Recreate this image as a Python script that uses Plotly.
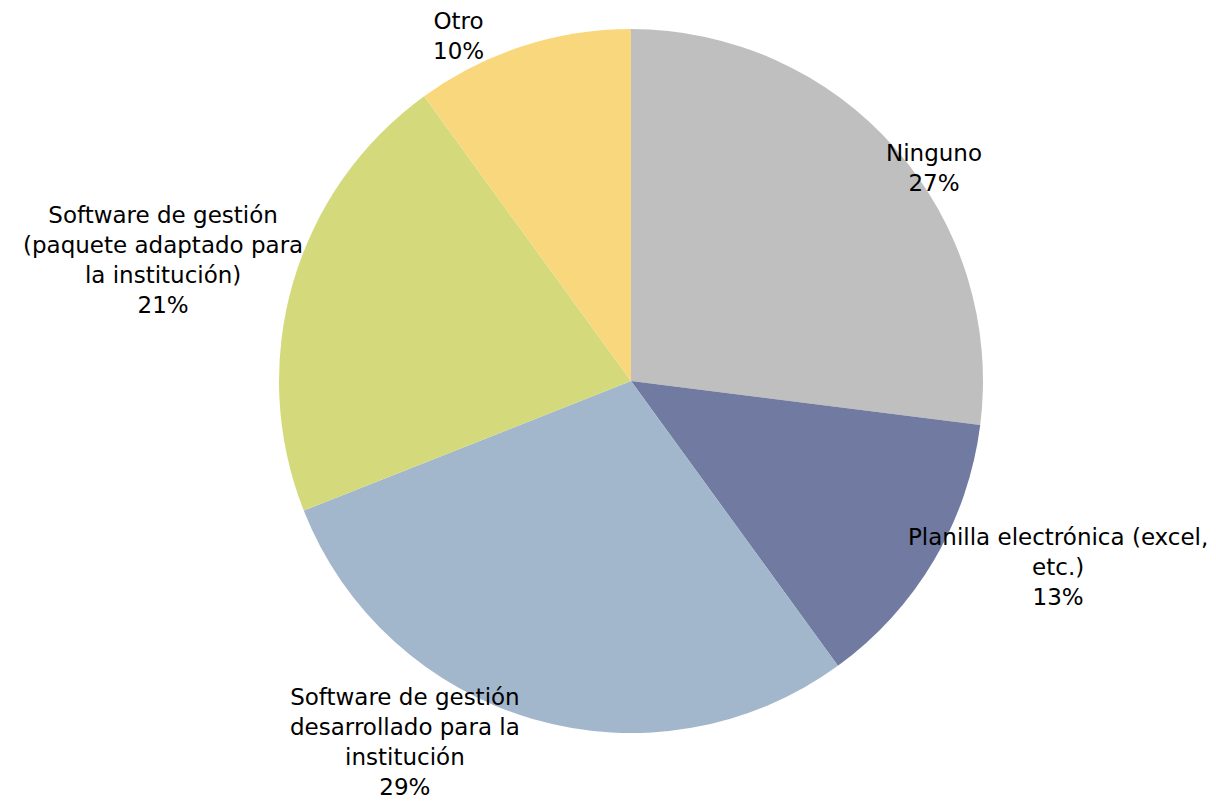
import plotly.graph_objects as go

labels = ["Ninguno", "Planilla electrónica (excel,<br>etc.)",
          "Software de gestión<br>desarrollado para la<br>institución",
          "Software de gestión<br>(paquete adaptado para<br>la institución)", "Otro"]
values = [27, 13, 29, 21, 10]
colors = ["#BFBFBF", "#717AA0", "#A2B6CC", "#D4DA7B", "#F9D87D"]

# label anchor positions in page pixels (layout only)
label_pos = [(934, 168), (1058, 567), (405, 742), (163, 260), (458, 36)]

OFF = 8  # default body margin of the page
W, H = 1216, 803
cx, cy, r = 631 - OFF, 381 - OFF, 352

fig = go.Figure(go.Pie(
    labels=labels, values=values, sort=False, direction="clockwise",
    rotation=0, marker=dict(colors=colors, line=dict(width=0)),
    textinfo="none", hoverinfo="label+percent",
    domain=dict(x=[(cx - r) / W, (cx + r) / W], y=[(H - cy - r) / H, (H - cy + r) / H]),
))

total = sum(values)
for lab, v, (px, py) in zip(labels, values, label_pos):
    fig.add_annotation(
        x=(px - OFF) / W, y=1 - (py - OFF) / H, xref="paper", yref="paper",
        text=f"{lab}<br>{round(100 * v / total)}%", showarrow=False,
        xanchor="center", yanchor="middle", align="center",
        font=dict(family="DejaVu Sans, sans-serif", size=23, color="#000000"),
    )

fig.update_layout(
    width=W, height=H, margin=dict(l=0, r=0, t=0, b=0),
    showlegend=False, paper_bgcolor="white", plot_bgcolor="white",
)
fig.write_html("out.html")
